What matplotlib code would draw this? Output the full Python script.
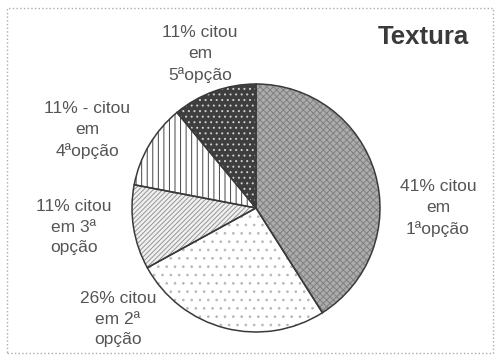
import matplotlib
matplotlib.use('Agg')
import matplotlib.pyplot as plt
from matplotlib.patches import Rectangle

# data
shares = [41, 26, 11, 11, 11]
labels = [
    '41% citou\nem\n1ªopção',
    '26% citou\nem 2ª\nopção',
    '11% citou\nem 3ª\nopção',
    '11% - citou\nem\n4ªopção',
    '11% citou\nem\n5ªopção',
]
title = 'Textura'

# styling per slice: (face, hatch, hatch colour)
styles = [
    ('#acacac', 'xxxxx', '#808080'),
    ('#ffffff', '..', '#b8b8b8'),
    ('#f0f0f0', '///////', '#959595'),
    ('#ffffff', '|||', '#444444'),
    ('#3e3e3e', '...', '#cfcfcf'),
]
label_pos = [(438, 208), (118, 319), (74, 227), (87, 130), (200, 54)]

W, H = 496, 356
plt.rcParams['font.family'] = ['Liberation Sans', 'DejaVu Sans']
plt.rcParams['hatch.linewidth'] = 0.7

fig = plt.figure(figsize=(W / 100, H / 100), dpi=100)
ax = fig.add_axes([0, 0, 1, 1])

center = (256, H - 208)
radius = 124

# fill + hatch
wedges, _ = ax.pie(shares, startangle=90, counterclock=False,
                   center=center, radius=radius, frame=True)
for w, (face, hatch, hc) in zip(wedges, styles):
    w.set_facecolor(face)
    w.set_hatch(hatch)
    w.set_edgecolor(hc)
    w.set_linewidth(0)

# outlines
outl, _ = ax.pie(shares, startangle=90, counterclock=False,
                 center=center, radius=radius, frame=True)
for w in outl:
    w.set_fill(False)
    w.set_edgecolor('#3a3a3a')
    w.set_linewidth(1.1)

ax.set_xlim(0, W)
ax.set_ylim(0, H)
ax.set_aspect('equal')
ax.axis('off')

for text, (x, y) in zip(labels, label_pos):
    ax.text(x, H - y, text, ha='center', va='center', fontsize=12.5,
            color='#555555', linespacing=1.45)

ax.text(423, H - 37, title, ha='center', va='center', fontsize=18.5,
        fontweight='bold', color='#3a3a3a')

ax.add_patch(Rectangle((7, 3), W - 10, H - 11, fill=False,
                       edgecolor='#aaaaaa', linestyle=':', linewidth=1))

fig.savefig('out.png', dpi=100)
